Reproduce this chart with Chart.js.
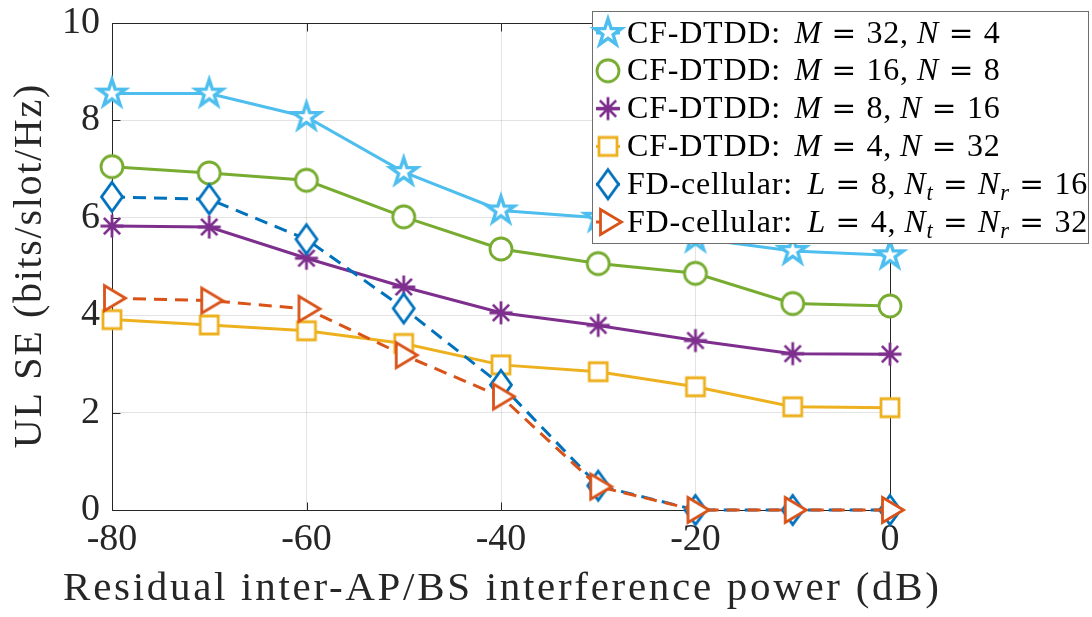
<!DOCTYPE html>
<html>
<head>
<meta charset="utf-8">
<script src="https://cdn.jsdelivr.net/npm/chart.js@4.4.0/dist/chart.umd.min.js"></script>
<style>
  html, body { margin: 0; padding: 0; background: #ffffff; }
  #wrap { width: 1092px; height: 617px; }
</style>
</head>
<body>
<div id="wrap"><canvas id="chart" width="1092" height="617"></canvas></div>
<script>
// Residual inter-AP/BS interference power (dB)
const powerDb = [-80, -70, -60, -50, -40, -30, -20, -10, 0];

// UL spectral efficiency (bits/slot/Hz)
const seCfM32N4 = [8.55, 8.55, 8.07, 6.94, 6.15, 6.00, 5.58, 5.32, 5.23];
const seCfM16N8 = [7.05, 6.92, 6.77, 6.02, 5.36, 5.06, 4.86, 4.24, 4.19];
const seCfM8N16 = [5.83, 5.81, 5.17, 4.58, 4.05, 3.79, 3.48, 3.21, 3.20];
const seCfM4N32 = [3.91, 3.80, 3.68, 3.42, 2.98, 2.84, 2.53, 2.12, 2.10];
const seFdL8 = [6.43, 6.38, 5.56, 4.14, 2.57, 0.50, 0, 0, 0];
const seFdL4 = [4.35, 4.30, 4.13, 3.18, 2.33, 0.48, 0, 0, 0];

const xTicks = [-80, -60, -40, -20, 0];
const yTicks = [0, 2, 4, 6, 8, 10];

const xTitle = 'Residual inter-AP/BS interference power (dB)';
const yTitle = 'UL SE (bits/slot/Hz)';

// legend labels as runs: i = italic, sub = subscript, op = relation sign, sp = space in em
const legendCf1 = [{t: 'CF-DTDD:'}, {sp: 0.42}, {t: 'M', i: 1}, {sp: 0.3}, {t: '=', op: 1}, {sp: 0.3}, {t: '32,'}, {sp: 0.25}, {t: 'N', i: 1}, {sp: 0.3}, {t: '=', op: 1}, {sp: 0.3}, {t: '4'}];
const legendCf2 = [{t: 'CF-DTDD:'}, {sp: 0.42}, {t: 'M', i: 1}, {sp: 0.3}, {t: '=', op: 1}, {sp: 0.3}, {t: '16,'}, {sp: 0.25}, {t: 'N', i: 1}, {sp: 0.3}, {t: '=', op: 1}, {sp: 0.3}, {t: '8'}];
const legendCf3 = [{t: 'CF-DTDD:'}, {sp: 0.42}, {t: 'M', i: 1}, {sp: 0.3}, {t: '=', op: 1}, {sp: 0.3}, {t: '8,'}, {sp: 0.25}, {t: 'N', i: 1}, {sp: 0.3}, {t: '=', op: 1}, {sp: 0.3}, {t: '16'}];
const legendCf4 = [{t: 'CF-DTDD:'}, {sp: 0.42}, {t: 'M', i: 1}, {sp: 0.3}, {t: '=', op: 1}, {sp: 0.3}, {t: '4,'}, {sp: 0.25}, {t: 'N', i: 1}, {sp: 0.3}, {t: '=', op: 1}, {sp: 0.3}, {t: '32'}];
const legendFd1 = [{t: 'FD-cellular:'}, {sp: 0.45}, {t: 'L', i: 1}, {sp: 0.3}, {t: '=', op: 1}, {sp: 0.3}, {t: '8,'}, {sp: 0.25}, {t: 'N', i: 1}, {t: 't', i: 1, sub: 1}, {sp: 0.3}, {t: '=', op: 1}, {sp: 0.3}, {t: 'N', i: 1}, {t: 'r', i: 1, sub: 1}, {sp: 0.3}, {t: '=', op: 1}, {sp: 0.3}, {t: '16'}];
const legendFd2 = [{t: 'FD-cellular:'}, {sp: 0.45}, {t: 'L', i: 1}, {sp: 0.3}, {t: '=', op: 1}, {sp: 0.3}, {t: '4,'}, {sp: 0.25}, {t: 'N', i: 1}, {t: 't', i: 1, sub: 1}, {sp: 0.3}, {t: '=', op: 1}, {sp: 0.3}, {t: 'N', i: 1}, {t: 'r', i: 1, sub: 1}, {sp: 0.3}, {t: '=', op: 1}, {sp: 0.3}, {t: '32'}];

const SERIF = '"Liberation Serif", "Times New Roman", serif';
const OPFONT = '"DejaVu Serif", serif';
const INK = '#262626';

// ---- marker sprites ----
function marker(kind, color) {
  const s = 44, m = s / 2;
  const c = document.createElement('canvas');
  c.width = s; c.height = s;
  const g = c.getContext('2d');
  g.lineWidth = 2.8;
  g.strokeStyle = color;
  g.fillStyle = '#ffffff';
  g.lineJoin = 'miter';
  g.beginPath();
  if (kind === 'pentagram') {
    g.lineWidth = 3.4;
    for (let k = 0; k < 10; k++) {
      const r = k % 2 ? 5.4 : 14;
      const a = -Math.PI / 2 + k * Math.PI / 5;
      const px = m + r * Math.cos(a), py = m + r * Math.sin(a);
      k ? g.lineTo(px, py) : g.moveTo(px, py);
    }
    g.closePath(); g.fill(); g.stroke();
  } else if (kind === 'circle') {
    g.arc(m, m, 11, 0, Math.PI * 2);
    g.fill(); g.stroke();
  } else if (kind === 'asterisk') {
    const r = 11.5, d = r * Math.SQRT1_2;
    g.moveTo(m - r, m); g.lineTo(m + r, m);
    g.moveTo(m, m - r); g.lineTo(m, m + r);
    g.moveTo(m - d, m - d); g.lineTo(m + d, m + d);
    g.moveTo(m - d, m + d); g.lineTo(m + d, m - d);
    g.stroke();
  } else if (kind === 'square') {
    g.rect(m - 9, m - 9, 18, 18);
    g.fill(); g.stroke();
  } else if (kind === 'diamond') {
    g.moveTo(m, m - 14.5); g.lineTo(m + 10.5, m); g.lineTo(m, m + 14.5); g.lineTo(m - 10.5, m);
    g.closePath(); g.fill(); g.stroke();
  } else if (kind === 'triangleRight') {
    g.moveTo(m - 7.5, m - 12.5); g.lineTo(m + 13.5, m); g.lineTo(m - 7.5, m + 12.5);
    g.closePath(); g.fill(); g.stroke();
  }
  return c;
}

const seriesDefs = [
  {values: seCfM32N4, color: '#4DBEEE', shape: 'pentagram', dash: [], legend: legendCf1},
  {values: seCfM16N8, color: '#77AC30', shape: 'circle', dash: [], legend: legendCf2},
  {values: seCfM8N16, color: '#7E2F8E', shape: 'asterisk', dash: [], legend: legendCf3},
  {values: seCfM4N32, color: '#EDB120', shape: 'square', dash: [], legend: legendCf4},
  {values: seFdL8, color: '#0072BD', shape: 'diamond', dash: [13, 8], legend: legendFd1},
  {values: seFdL4, color: '#D95319', shape: 'triangleRight', dash: [13, 8], legend: legendFd2}
];
seriesDefs.forEach(d => { d.sprite = marker(d.shape, d.color); });

const datasets = seriesDefs.map((d, idx) => ({
  data: powerDb.map((x, k) => ({x: x, y: d.values[k]})),
  borderColor: d.color,
  backgroundColor: d.color,
  borderWidth: 3,
  borderDash: d.dash,
  pointStyle: d.sprite,
  pointRadius: 14,
  pointHoverRadius: 14,
  fill: false,
  tension: 0,
  clip: false,
  order: seriesDefs.length - idx
}));

// axes frame with inward ticks, drawn beneath the data
const framePlugin = {
  id: 'frame',
  beforeDatasetsDraw(chart) {
    const {ctx, chartArea: a, scales: {x, y}} = chart;
    const L = Math.round(a.left) + 0.5, R = Math.round(a.right) + 0.5;
    const T = Math.round(a.top) + 0.5, B = Math.round(a.bottom) + 0.5;
    ctx.save();
    ctx.strokeStyle = INK;
    ctx.lineWidth = 1;
    ctx.beginPath();
    ctx.rect(L, T, R - L, B - T);
    const tl = 8;
    xTicks.forEach(v => {
      const px = Math.round(x.getPixelForValue(v)) + 0.5;
      ctx.moveTo(px, B); ctx.lineTo(px, B - tl);
      ctx.moveTo(px, T); ctx.lineTo(px, T + tl);
    });
    yTicks.forEach(v => {
      const py = Math.round(y.getPixelForValue(v)) + 0.5;
      ctx.moveTo(L, py); ctx.lineTo(L + tl, py);
      ctx.moveTo(R, py); ctx.lineTo(R - tl, py);
    });
    ctx.stroke();
    ctx.restore();
  }
};

// axis titles with wider tracking
const titlesPlugin = {
  id: 'axisTitles',
  afterDraw(chart) {
    const {ctx, chartArea: a} = chart;
    ctx.save();
    ctx.fillStyle = INK;
    ctx.font = '41px ' + SERIF;
    ctx.textAlign = 'center';
    ctx.textBaseline = 'alphabetic';
    ctx.letterSpacing = '2.7px';
    ctx.fillText(xTitle, (a.left + a.right) / 2 + 1.35, 600);
    ctx.font = '40px ' + SERIF;
    ctx.translate(41, (a.top + a.bottom) / 2);
    ctx.rotate(-Math.PI / 2);
    ctx.letterSpacing = '1.7px';
    ctx.fillText(yTitle, 0.85, 0);
    ctx.restore();
  }
};

function drawRuns(ctx, runs, x, y, size) {
  runs.forEach(r => {
    if (r.sp) { x += r.sp * size; return; }
    const fs = r.sub ? size * 0.7 : (r.op ? size * 0.92 : size);
    ctx.font = (r.i ? 'italic ' : '') + fs + 'px ' + (r.op ? OPFONT : SERIF);
    ctx.fillText(r.t, x, y + (r.sub ? size * 0.2 : 0));
    x += ctx.measureText(r.t).width;
  });
}

// boxed legend in the upper-right corner
const legendPlugin = {
  id: 'richLegend',
  afterDraw(chart) {
    const ctx = chart.ctx;
    const box = {x: 592.5, y: 11.5, w: 496, h: 232};
    ctx.save();
    ctx.fillStyle = '#ffffff';
    ctx.fillRect(box.x, box.y, box.w, box.h);
    ctx.strokeStyle = '#6e6e6e';
    ctx.lineWidth = 1;
    ctx.strokeRect(box.x, box.y, box.w, box.h);
    const fontSize = 32;
    seriesDefs.forEach((d, k) => {
      const cy = 33 + k * 37.8;
      ctx.save();
      ctx.strokeStyle = d.color;
      ctx.lineWidth = 3;
      ctx.setLineDash(d.dash);
      ctx.beginPath();
      ctx.moveTo(596, cy); ctx.lineTo(620, cy);
      ctx.stroke();
      ctx.restore();
      ctx.drawImage(d.sprite, 608 - d.sprite.width / 2, cy - d.sprite.height / 2);
      ctx.fillStyle = '#000000';
      ctx.textBaseline = 'alphabetic';
      ctx.textAlign = 'left';
      ctx.letterSpacing = '0.8px';
      drawRuns(ctx, d.legend, 627, cy + 9.5, fontSize);
    });
    ctx.restore();
  }
};

new Chart(document.getElementById('chart'), {
  type: 'line',
  data: {datasets: datasets},
  options: {
    responsive: false,
    animation: false,
    events: [],
    layout: {padding: {left: 0, right: 202, top: 23, bottom: 0}},
    plugins: {legend: {display: false}, tooltip: {enabled: false}},
    scales: {
      x: {
        type: 'linear',
        min: -80,
        max: 0,
        afterBuildTicks(s) { s.ticks = xTicks.map(v => ({value: v})); },
        afterFit(s) { s.height = 107; s.paddingLeft = 0; s.paddingRight = 0; },
        ticks: {
          color: INK,
          padding: 7,
          font: {family: SERIF, size: 38},
          callback: v => String(v)
        },
        grid: {color: 'rgba(38,38,38,0.13)', lineWidth: 1, drawTicks: false},
        border: {display: false},
        title: {display: false}
      },
      y: {
        type: 'linear',
        min: 0,
        max: 10,
        afterBuildTicks(s) { s.ticks = yTicks.map(v => ({value: v})); },
        afterFit(s) { s.width = 112; s.paddingTop = 0; s.paddingBottom = 0; },
        ticks: {
          color: INK,
          padding: 12,
          font: {family: SERIF, size: 38},
          callback: v => String(v)
        },
        grid: {color: 'rgba(38,38,38,0.13)', lineWidth: 1, drawTicks: false},
        border: {display: false},
        title: {display: false}
      }
    }
  },
  plugins: [framePlugin, titlesPlugin, legendPlugin]
});
</script>
</body>
</html>
